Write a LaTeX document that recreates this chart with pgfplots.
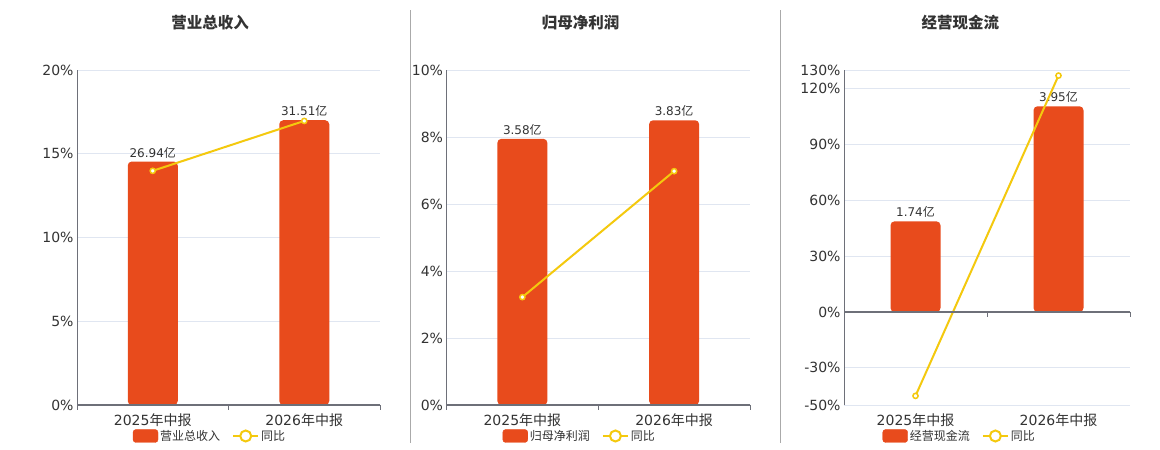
\documentclass[border=0pt]{standalone}
\usepackage{fontspec}
\setmainfont{DejaVu Sans}
\newfontfamily\cjk{Noto Sans CJK SC}
\usepackage{pgfplots}
\pgfplotsset{compat=1.18}
\definecolor{barred}{HTML}{E84B1C}
\definecolor{lineyellow}{HTML}{F4C90E}
\definecolor{gridc}{HTML}{E0E6F1}
\definecolor{axisgray}{HTML}{6E7079}
\definecolor{txt}{HTML}{333333}
\definecolor{sepgray}{HTML}{AAAAAA}
\pgfplotsset{
  every axis title/.style={anchor=center},
  common/.style={scale only axis, height=335bp, xmin=-0.5, xmax=1.5, anchor=south west},
  gridax/.style={common, ymajorgrids, major grid style={gridc, line width=0.8bp},
    xtick=\empty, yticklabels={}, axis line style={draw=none}, tick style={draw=none}},
  barax/.style={common, hide axis, ybar, bar width=50bp,
    point meta=explicit symbolic,
    nodes near coords={\pgfplotspointmeta{\cjk 亿}},
    every node near coord/.append style={font=\fontsize{12bp}{14bp}\selectfont, text=txt}},
  lineax/.style={common, clip=false, axis y line*=left, axis x line*=bottom,
    y axis line style={draw=axisgray, line width=1bp}, x axis line style={draw=none},
    xtick={0,1}, xticklabels={2025{\cjk 年中报},2026{\cjk 年中报}},
    tick style={draw=none},
    ticklabel style={font=\fontsize{14bp}{16bp}\selectfont, text=txt},
    xticklabel style={yshift=-5bp},
    title style={font=\cjk\bfseries\fontsize{15.5bp}{18bp}\selectfont, text=txt},
    legend style={anchor=center, legend columns=2, draw=none, fill=none,
      font=\fontsize{12bp}{14bp}\selectfont, text=txt,
      /tikz/every even column/.append style={column sep=10bp}}},
  barleg/.style={legend image code/.code={\fill[barred, rounded corners=3bp] (0bp,-6.5bp) rectangle (25bp,6.5bp);}},
  lineplot/.style={lineyellow, line width=2bp, mark=*, mark size=2.6bp,
    mark options={fill=white, draw=lineyellow, line width=1.5bp},
    legend image code/.code={\draw[lineyellow, line width=2bp] (0bp,0bp) -- (25bp,0bp);
      \draw[lineyellow, line width=2bp, fill=white] (12.5bp,0bp) circle (5.5bp);}}
}
\begin{document}
\begin{tikzpicture}
\path[use as bounding box] (0,0) rectangle (1160bp,450bp);
\fill[white] (0,0) rectangle (1160bp,450bp);
\draw[sepgray, line width=1bp] (410.5bp,7bp) -- (410.5bp,440bp);
\draw[sepgray, line width=1bp] (780.5bp,7bp) -- (780.5bp,440bp);

% ---------- Panel 1 ----------
\begin{axis}[gridax, at={(77bp,45bp)}, width=303bp, ymin=0, ymax=20, ytick={0,5,10,15,20}]
\addplot[draw=none] coordinates {(0,0)};
\end{axis}
\begin{axis}[barax, at={(77bp,45bp)}, width=303bp, ymin=0, ymax=37.07]
\addplot[fill=barred, draw=none, rounded corners=4bp] coordinates {(0,26.94) [26.94] (1,31.51) [31.51]};
\end{axis}
\begin{axis}[lineax, at={(77bp,45bp)}, width=303bp, ymin=0, ymax=20,
  ytick={0,5,10,15,20}, yticklabels={0\%,5\%,10\%,15\%,20\%},
  title={营业总收入}, title style={at={(axis description cs:0.439,1.1403)}},
  legend style={at={(0.439,-0.0925)}}]
\addlegendimage{barleg}
\addlegendentry{\cjk 营业总收入}
\addplot[lineplot] coordinates {(0,13.98) (1,16.96)};
\addlegendentry{\cjk 同比}
\draw[axisgray, line width=1.2bp] (axis cs:-0.5,0) -- (axis cs:1.5,0);
\draw[axisgray, line width=1bp] (axis cs:-0.5,0) -- ++(0bp,-5bp);
\draw[axisgray, line width=1bp] (axis cs:0.5,0) -- ++(0bp,-5bp);
\draw[axisgray, line width=1bp] (axis cs:1.5,0) -- ++(0bp,-5bp);
\end{axis}

% ---------- Panel 2 ----------
\begin{axis}[gridax, at={(446.5bp,45bp)}, width=303.5bp, ymin=0, ymax=10, ytick={0,2,4,6,8,10}]
\addplot[draw=none] coordinates {(0,0)};
\end{axis}
\begin{axis}[barax, at={(446.5bp,45bp)}, width=303.5bp, ymin=0, ymax=4.506]
\addplot[fill=barred, draw=none, rounded corners=4bp] coordinates {(0,3.58) [3.58] (1,3.83) [3.83]};
\end{axis}
\begin{axis}[lineax, at={(446.5bp,45bp)}, width=303.5bp, ymin=0, ymax=10,
  ytick={0,2,4,6,8,10}, yticklabels={0\%,2\%,4\%,6\%,8\%,10\%},
  title={归母净利润}, title style={at={(axis description cs:0.4415,1.1403)}},
  legend style={at={(0.439,-0.0925)}}]
\addlegendimage{barleg}
\addlegendentry{\cjk 归母净利润}
\addplot[lineplot] coordinates {(0,3.22) (1,6.98)};
\addlegendentry{\cjk 同比}
\draw[axisgray, line width=1.2bp] (axis cs:-0.5,0) -- (axis cs:1.5,0);
\draw[axisgray, line width=1bp] (axis cs:-0.5,0) -- ++(0bp,-5bp);
\draw[axisgray, line width=1bp] (axis cs:0.5,0) -- ++(0bp,-5bp);
\draw[axisgray, line width=1bp] (axis cs:1.5,0) -- ++(0bp,-5bp);
\end{axis}

% ---------- Panel 3 ----------
\begin{axis}[gridax, at={(844bp,45bp)}, width=286bp, ymin=-50, ymax=130, ytick={-50,-30,0,30,60,90,120,130}]
\addplot[draw=none] coordinates {(0,0)};
\end{axis}
\begin{axis}[barax, at={(844bp,45bp)}, width=286bp, ymin=-1.7873, ymax=4.647]
\addplot[fill=barred, draw=none, rounded corners=4bp] coordinates {(0,1.74) [1.74] (1,3.95) [3.95]};
\end{axis}
\begin{axis}[lineax, at={(844bp,45bp)}, width=286bp, ymin=-50, ymax=130,
  ytick={-50,-30,0,30,60,90,120,130}, yticklabels={-50\%,-30\%,0\%,30\%,60\%,90\%,120\%,130\%},
  title={经营现金流}, title style={at={(axis description cs:0.4073,1.1403)}},
  legend style={at={(0.4045,-0.0925)}}]
\addlegendimage{barleg}
\addlegendentry{\cjk 经营现金流}
\addplot[lineplot] coordinates {(0,-45.1) (1,127.0)};
\addlegendentry{\cjk 同比}
\draw[axisgray, line width=1.2bp] (axis cs:-0.5,0) -- (axis cs:1.5,0);
\draw[axisgray, line width=1bp] (axis cs:-0.5,0) -- ++(0bp,-5bp);
\draw[axisgray, line width=1bp] (axis cs:0.5,0) -- ++(0bp,-5bp);
\draw[axisgray, line width=1bp] (axis cs:1.5,0) -- ++(0bp,-5bp);
\end{axis}
\end{tikzpicture}
\end{document}
